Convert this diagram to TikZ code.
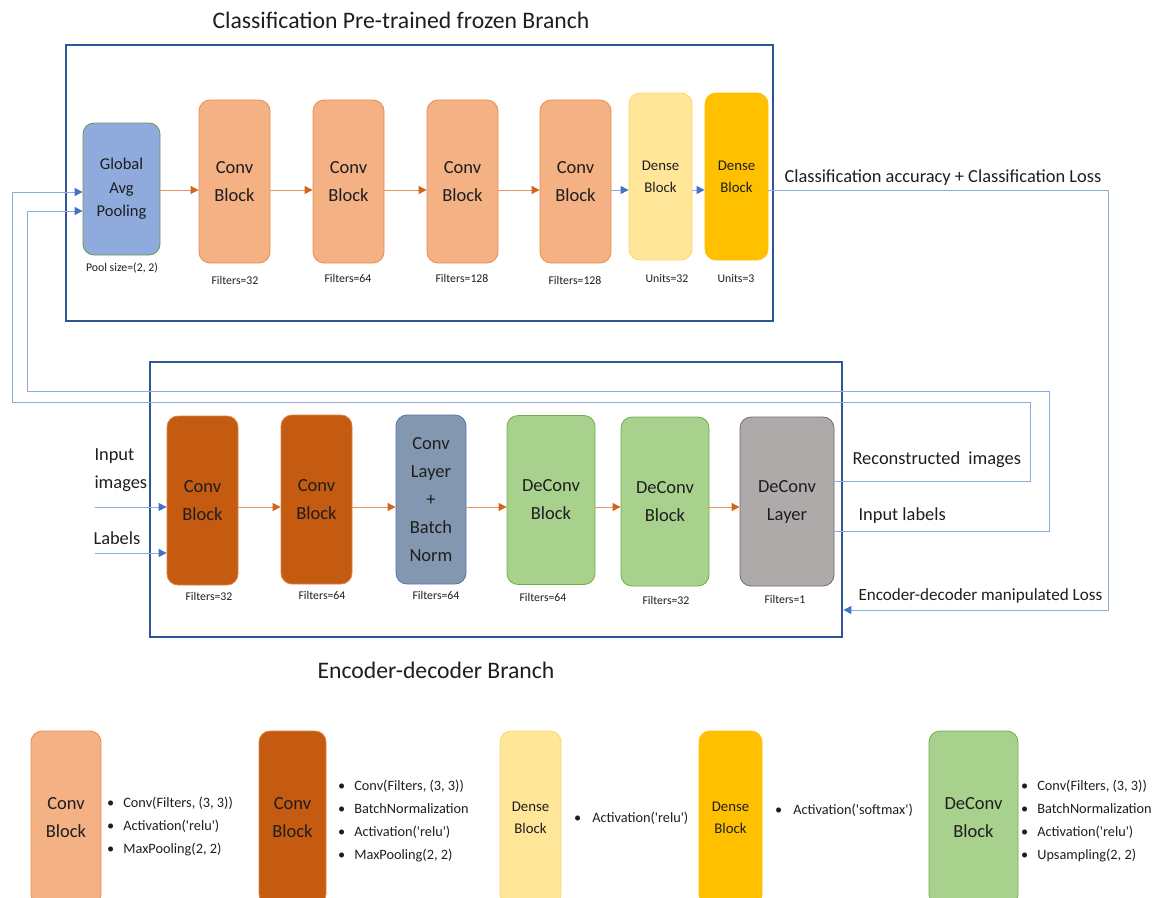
\documentclass[tikz,border=0pt]{standalone}
\usepackage{fontspec}
\setmainfont{Carlito}
\usetikzlibrary{
  arrows.meta,
  positioning,
  calc
}
\definecolor{convlight}{RGB}{244, 177, 131}
\definecolor{convlightline}{RGB}{232, 140, 82}
\definecolor{convdark}{RGB}{197, 90, 17}
\definecolor{convdarkline}{RGB}{222, 130, 70}
\definecolor{poolfill}{RGB}{143, 170, 220}
\definecolor{poolline}{RGB}{110, 150, 80}
\definecolor{densefill}{RGB}{255, 230, 153}
\definecolor{denseline}{RGB}{255, 214, 100}
\definecolor{goldfill}{RGB}{255, 192, 0}
\definecolor{bnfill}{RGB}{132, 151, 176}
\definecolor{bnline}{RGB}{84, 114, 176}
\definecolor{deconvfill}{RGB}{169, 209, 142}
\definecolor{deconvline}{RGB}{112, 173, 71}
\definecolor{layerfill}{RGB}{174, 170, 170}
\definecolor{layerline}{RGB}{110, 108, 108}
\definecolor{framecolor}{RGB}{47, 85, 151}
\definecolor{linkline}{RGB}{143, 170, 220}
\definecolor{linktip}{RGB}{68, 114, 196}
\definecolor{flowline}{RGB}{236, 150, 100}
\definecolor{flowtip}{RGB}{210, 100, 30}
\definecolor{labelcolor}{RGB}{30, 30, 30}
\tikzset{
block/.style={
  draw,
  rounded corners=11pt,
  line width=0.8pt,
  align=center,
  text=labelcolor,
  inner sep=2pt
},
convblock/.style={
  block,
  fill=convlight,
  draw=convlightline,
  minimum width=71pt,
  minimum height=163pt,
  font=\fontsize{18.5}{28}\selectfont
},
darkblock/.style={
  block,
  fill=convdark,
  draw=convdarkline,
  minimum width=71pt,
  minimum height=169pt,
  font=\fontsize{18.5}{28}\selectfont
},
poolblock/.style={
  block,
  fill=poolfill,
  draw=poolline,
  minimum width=77pt,
  minimum height=132pt,
  font=\fontsize{16.5}{23.5}\selectfont
},
denseblock/.style={
  block,
  fill=densefill,
  draw=denseline,
  minimum width=63pt,
  minimum height=167pt,
  font=\fontsize{14.8}{22}\selectfont
},
goldblock/.style={
  block,
  fill=goldfill,
  draw=goldfill,
  minimum width=63pt,
  minimum height=167pt,
  font=\fontsize{14.8}{22}\selectfont
},
bnblock/.style={
  block,
  fill=bnfill,
  draw=bnline,
  minimum width=70pt,
  minimum height=169pt,
  font=\fontsize{18.5}{28}\selectfont
},
deconvblock/.style={
  block,
  fill=deconvfill,
  draw=deconvline,
  minimum width=88pt,
  minimum height=169pt,
  font=\fontsize{18.5}{28}\selectfont
},
layerblock/.style={
  block,
  fill=layerfill,
  draw=layerline,
  minimum width=94pt,
  minimum height=169pt,
  font=\fontsize{18.5}{28}\selectfont
},
branchframe/.style={
  draw=framecolor,
  line width=2.8pt,
  inner sep=0pt
},
titlelabel/.style={
  font=\fontsize{23.7}{28}\selectfont,
  text=labelcolor
},
sidelabel/.style={
  font=\fontsize{18.4}{28}\selectfont,
  text=labelcolor,
  align=left
},
sublabel/.style={
  font=\fontsize{11.8}{13}\selectfont,
  text=labelcolor
},
listlabel/.style={
  font=\fontsize{14.3}{23}\selectfont,
  text=labelcolor,
  align=left,
  anchor=west,
  inner sep=0pt
},
flow/.style={
  -{Triangle[length=8pt,width=8pt,color=flowtip]},
  line width=0.9pt,
  draw=flowline
},
link/.style={
  -{Triangle[length=8pt,width=8pt,color=linktip]},
  line width=1pt,
  draw=linkline
}
}
\newcommand{\qt}{\textquotesingle}
\begin{document}
\begin{tikzpicture}[x=1pt,y=-1pt]
  \useasboundingbox (0,0) rectangle (1159,897);
  \clip (0,0) rectangle (1159,897);

  \node[titlelabel] (toptitle) at (401,20) {Classification Pre-trained frozen Branch};
  \node[branchframe, minimum width=707pt, minimum height=276pt] (topframe) at (419.5,183) {};

  \node[poolblock] (pool) at (121.5,189) {Global\\Avg\\Pooling};
  \node[convblock] (c1) at (234.5,181.5) {Conv\\Block};
  \node[convblock] (c2) at (348.5,181.5) {Conv\\Block};
  \node[convblock] (c3) at (462.5,181.5) {Conv\\Block};
  \node[convblock] (c4) at (575.5,181.5) {Conv\\Block};
  \node[denseblock] (d1) at (660.5,176.5) {Dense\\Block};
  \node[goldblock] (d2) at (736.5,176.5) {Dense\\Block};

  \node[sublabel] (poolcap) at (122,268) {Pool size=(2, 2)};
  \node[sublabel] (c1cap) at (235,280) {Filters=32};
  \node[sublabel] (c2cap) at (348,278) {Filters=64};
  \node[sublabel] (c3cap) at (462,278) {Filters=128};
  \node[sublabel] (c4cap) at (575,280) {Filters=128};
  \node[sublabel] (d1cap) at (667,278) {Units=32};
  \node[sublabel] (d2cap) at (736,278) {Units=3};

  \coordinate (toprow) at (0,190);
  \draw[flow] (pool.east |- toprow) -- (c1.west |- toprow);
  \draw[flow] (c1.east |- toprow) -- (c2.west |- toprow);
  \draw[flow] (c2.east |- toprow) -- (c3.west |- toprow);
  \draw[flow] (c3.east |- toprow) -- (c4.west |- toprow);
  \draw[link] (c4.east |- toprow) -- (d1.west |- toprow);
  \draw[link] (d1.east |- toprow) -- (d2.west |- toprow);

  \node[titlelabel] (enctitle) at (436,670) {Encoder-decoder Branch};
  \node[branchframe, minimum width=692pt, minimum height=275pt] (encframe) at (496,499.5) {};

  \node[darkblock] (e1) at (202.5,500.5) {Conv\\Block};
  \node[darkblock] (e2) at (316.5,499.5) {Conv\\Block};
  \node[bnblock] (bn) at (431,499.5) {Conv\\Layer\\+\\Batch\\Norm};
  \node[deconvblock] (dc1) at (551,500) {DeConv\\Block};
  \node[deconvblock] (dc2) at (665,501.5) {DeConv\\Block};
  \node[layerblock] (dl) at (787,501.5) {DeConv\\Layer};

  \node[sublabel] (e1cap) at (209,596) {Filters=32};
  \node[sublabel] (e2cap) at (322,595) {Filters=64};
  \node[sublabel] (bncap) at (436,595) {Filters=64};
  \node[sublabel] (dc1cap) at (543,597) {Filters=64};
  \node[sublabel] (dc2cap) at (666,600) {Filters=32};
  \node[sublabel] (dlcap) at (785,599) {Filters=1};

  \coordinate (encrow) at (0,507);
  \draw[flow] (e1.east |- encrow) -- (e2.west |- encrow);
  \draw[flow] (e2.east |- encrow) -- (bn.west |- encrow);
  \draw[flow] (bn.east |- encrow) -- (dc1.west |- encrow);
  \draw[flow] (dc1.east |- encrow) -- (dc2.west |- encrow);
  \draw[flow] (dc2.east |- encrow) -- (dl.west |- encrow);

  \node[sidelabel, anchor=west] (inimg) at (91,470) {Input\\images};
  \node[sidelabel, anchor=west] (inlab) at (90,538) {Labels};
  \coordinate (imgstart) at (95,507);
  \coordinate (labstart) at (95,553);
  \draw[link] (imgstart) -- (e1.west |- imgstart);
  \draw[link] (labstart) -- (e1.west |- labstart);

  \node[sidelabel, anchor=west] (recotext) at (849,460) {Reconstructed\ \ images};
  \node[sidelabel, anchor=west] (labtext) at (855,516) {Input labels};
  \node[sidelabel, anchor=west, font=\fontsize{17.1}{28}\selectfont] (losstext) at (855,596) {Encoder-decoder manipulated Loss};
  \node[sidelabel, anchor=west] (acctext) at (781,178) {Classification accuracy + Classification Loss};

  \coordinate (acc1) at (1108,190);
  \coordinate (acc2) at (1108,610);
  \draw[link] (d2.east |- acc1) -- (acc1) -- (acc2) -- (encframe.east |- acc2);

  \coordinate (reco1) at (1030,481);
  \coordinate (reco2) at (1030,402);
  \coordinate (reco3) at (12,402);
  \coordinate (reco4) at (12,192);
  \draw[link] (dl.east |- reco1) -- (reco1) -- (reco2) -- (reco3) -- (reco4) -- (pool.west |- reco4);

  \coordinate (lab1) at (1049,531);
  \coordinate (lab2) at (1049,391);
  \coordinate (lab3) at (27,391);
  \coordinate (lab4) at (27,211);
  \draw[link] (dl.east |- lab1) -- (lab1) -- (lab2) -- (lab3) -- (lab4) -- (pool.west |- lab4);

  \node[convblock, minimum width=70pt, minimum height=174pt] (key1) at (66,818) {Conv\\Block};
  \node[darkblock, minimum width=67pt, minimum height=174pt] (key2) at (292.5,818) {Conv\\Block};
  \node[denseblock, minimum width=61pt, minimum height=174pt] (key3) at (530.5,818) {Dense\\Block};
  \node[goldblock, minimum width=63pt, minimum height=174pt] (key4) at (730.5,818) {Dense\\Block};
  \node[deconvblock, minimum width=89pt, minimum height=174pt] (key5) at (973.5,818) {DeConv\\Block};

  \node[listlabel] (key1list) at (107,826) {\textbullet\hspace{9pt}Conv(Filters, (3, 3))\\\textbullet\hspace{9pt}Activation(\qt relu\qt)\\\textbullet\hspace{9pt}MaxPooling(2, 2)};
  \node[listlabel] (key2list) at (338,821) {\textbullet\hspace{9pt}Conv(Filters, (3, 3))\\\textbullet\hspace{9pt}BatchNormalization\\\textbullet\hspace{9pt}Activation(\qt relu\qt)\\\textbullet\hspace{9pt}MaxPooling(2, 2)};
  \node[listlabel] (key3list) at (574,818) {\textbullet\hspace{11pt}Activation(\qt relu\qt)};
  \node[listlabel] (key4list) at (775,810) {\textbullet\hspace{11pt}Activation(\qt softmax\qt)};
  \node[listlabel] (key5list) at (1021,821) {\textbullet\hspace{9pt}Conv(Filters, (3, 3))\\\textbullet\hspace{9pt}BatchNormalization\\\textbullet\hspace{9pt}Activation(\qt relu\qt)\\\textbullet\hspace{9pt}Upsampling(2, 2)};
\end{tikzpicture}
\end{document}
